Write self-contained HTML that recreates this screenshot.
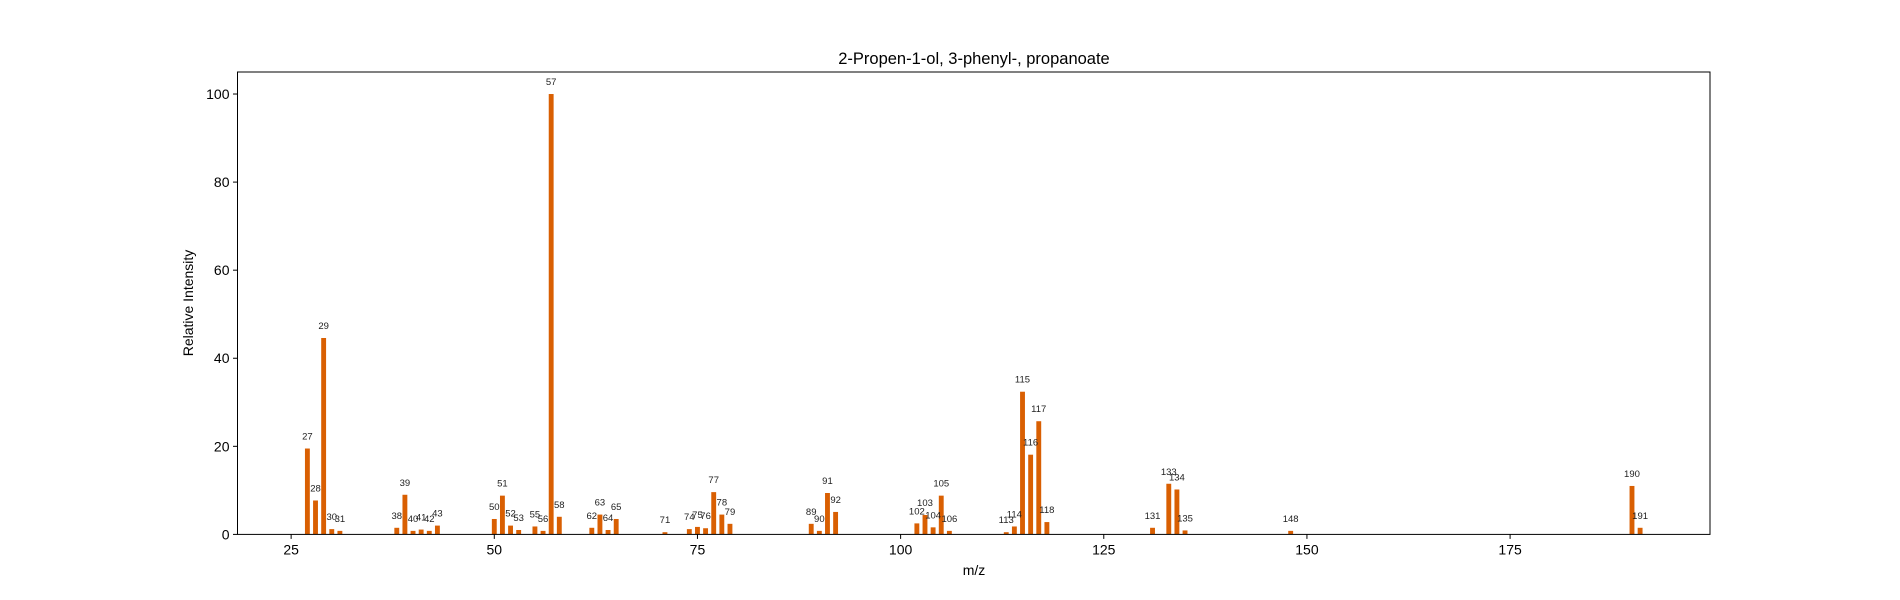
<!DOCTYPE html>
<html><head><meta charset="utf-8"><style>
html,body{margin:0;padding:0;background:#fff;}
svg{display:block;font-family:"Liberation Sans","DejaVu Sans",sans-serif;}
</style></head><body>
<svg id="chart" width="1900" height="600" xmlns="http://www.w3.org/2000/svg">
<rect width="1900" height="600" fill="#fff"/>
<text x="974" y="64" text-anchor="middle" font-size="16.5" fill="#000">2-Propen-1-ol, 3-phenyl-, propanoate</text>
<g id="bars"></g>
<g id="labels"></g>
<g id="xaxis"></g>
<g id="yaxis"></g>
<rect x="237.5" y="72" width="1472.5" height="462.4" fill="none" stroke="#000" stroke-width="1"/>
<text x="974" y="575" text-anchor="middle" font-size="14">m/z</text>
<text x="0" y="0" transform="translate(193,303) rotate(-90)" text-anchor="middle" font-size="14">Relative Intensity</text>
</svg>
<script>
const mzValues = [27,28,29,30,31,38,39,40,41,42,43,50,51,52,53,55,56,57,58,62,63,64,65,71,74,75,76,77,78,79,89,90,91,92,102,103,104,105,106,113,114,115,116,117,118,131,133,134,135,148,190,191];
const intensities = [19.5,7.7,44.6,1.2,0.8,1.5,9.0,0.8,1.1,0.8,2.0,3.5,8.8,2.0,1.0,1.8,0.8,100,4.0,1.5,4.5,1.0,3.5,0.5,1.2,1.7,1.4,9.6,4.5,2.4,2.4,0.8,9.4,5.1,2.5,4.4,1.6,8.8,0.8,0.5,1.8,32.4,18.1,25.7,2.8,1.5,11.5,10.2,0.9,0.8,11.0,1.5];
const xTicks = [25,50,75,100,125,150,175];
const yTicks = [0,20,40,60,80,100];

const L=237.5,R=1710,T=72,B=534.4;
const xMin=18.4,xMax=199.6,yMin=0,yMax=105;
const xs=v=>L+(v-xMin)/(xMax-xMin)*(R-L);
const ys=v=>B-(v-yMin)/(yMax-yMin)*(B-T);
const NS="http://www.w3.org/2000/svg";
const bars=document.getElementById('bars'),labels=document.getElementById('labels');
const xa=document.getElementById('xaxis'),ya=document.getElementById('yaxis');
const bw=0.6*(R-L)/(xMax-xMin);
mzValues.forEach((m,i)=>{
  const v=intensities[i];
  const r=document.createElementNS(NS,'rect');
  r.setAttribute('x',xs(m)-bw/2);r.setAttribute('y',ys(v));
  r.setAttribute('width',bw);r.setAttribute('height',B-ys(v));
  r.setAttribute('fill','#d95f02');
  
  
  bars.appendChild(r);
  const t=document.createElementNS(NS,'text');
  t.setAttribute('x',xs(m));t.setAttribute('y',ys(v)-9);
  t.setAttribute('text-anchor','middle');t.setAttribute('font-size','9.5');t.setAttribute('fill','#222');
  t.textContent=m;
  
  
  labels.appendChild(t);
});
xTicks.forEach(v=>{
  const l=document.createElementNS(NS,'line');
  l.setAttribute('x1',xs(v));l.setAttribute('x2',xs(v));l.setAttribute('y1',B);l.setAttribute('y2',B+4.5);
  l.setAttribute('stroke','#000');
  
  
  xa.appendChild(l);
  const t=document.createElementNS(NS,'text');
  t.setAttribute('x',xs(v));t.setAttribute('y',B+20);t.setAttribute('text-anchor','middle');t.setAttribute('font-size','14');
  t.textContent=v;
  
  
  xa.appendChild(t);
});
yTicks.forEach(v=>{
  const l=document.createElementNS(NS,'line');
  l.setAttribute('x1',L-4.5);l.setAttribute('x2',L);l.setAttribute('y1',ys(v));l.setAttribute('y2',ys(v));
  l.setAttribute('stroke','#000');
  
  
  ya.appendChild(l);
  const t=document.createElementNS(NS,'text');
  t.setAttribute('x',L-8);t.setAttribute('y',ys(v)+5);t.setAttribute('text-anchor','end');t.setAttribute('font-size','14');
  t.textContent=v;
  
  
  ya.appendChild(t);
});
</script>
</body></html>
